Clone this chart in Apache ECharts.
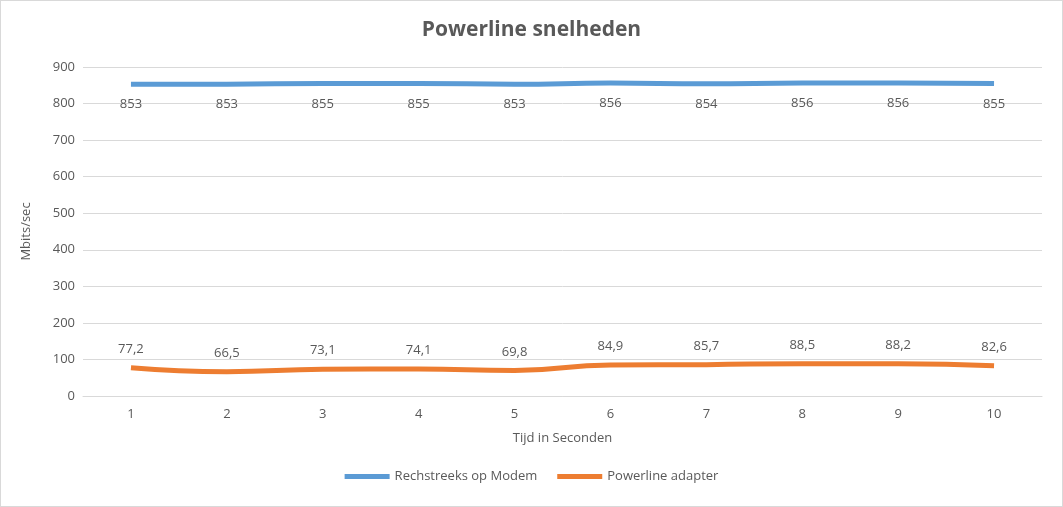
<!DOCTYPE html>
<html>
<head>
<meta charset="utf-8">
<script src="https://cdn.jsdelivr.net/npm/echarts@6/dist/echarts.min.js"></script>
<style>
  html, body { margin: 0; padding: 0; background: #fff; }
  #chart { width: 1061px; height: 505px; border: 1px solid #d9d9d9; }
</style>
</head>
<body>
<div id="chart"></div>
<script>
// data
const categories = ['1', '2', '3', '4', '5', '6', '7', '8', '9', '10']
const modem = [853, 853, 855, 855, 853, 856, 854, 856, 856, 855]
const adapter = [77.2, 66.5, 73.1, 74.1, 69.8, 84.9, 85.7, 88.5, 88.2, 82.6]

const chart = echarts.init(document.getElementById('chart'))
const txt = { color: '#595959', fontFamily: 'Open Sans, Arial', fontSize: 13 }
const fmt = p => String(p.value).replace('.', ',')

chart.setOption({
  title: {
    text: 'Powerline snelheden', left: 'center', top: 14,
    textStyle: { color: '#595959', fontSize: 21, fontWeight: 'bold', fontFamily: 'Open Sans, Arial' }
  },
  grid: { left: 82, right: 20, top: 66, bottom: 110 },
  legend: {
    bottom: 18, itemGap: 20, icon: 'rect', itemWidth: 45, itemHeight: 5,
    textStyle: txt
  },
  xAxis: {
    type: 'category', data: categories,
    name: 'Tijd in Seconden', nameLocation: 'middle', nameGap: 36, nameTextStyle: txt,
    axisLine: { lineStyle: { color: '#d9d9d9' } },
    axisTick: { show: false },
    axisLabel: { ...txt, margin: 12 }
  },
  yAxis: {
    type: 'value', min: 0, max: 900, interval: 100,
    name: 'Mbits/sec', nameLocation: 'middle', nameGap: 50, nameTextStyle: txt,
    axisLine: { show: false }, axisTick: { show: false },
    axisLabel: txt,
    splitLine: { lineStyle: { color: '#d9d9d9' } }
  },
  series: [
    {
      name: 'Rechstreeks op Modem', type: 'line', data: modem, smooth: true,
      symbol: 'circle', symbolSize: 0, color: '#5B9BD5', lineStyle: { width: 5 },
      label: { show: true, position: 'bottom', distance: 14, formatter: fmt, ...txt }
    },
    {
      name: 'Powerline adapter', type: 'line', data: adapter, smooth: true,
      symbol: 'circle', symbolSize: 0, color: '#ED7D31', lineStyle: { width: 5 },
      label: { show: true, position: 'top', distance: 12, formatter: fmt, ...txt }
    }
  ]
})
</script>
</body>
</html>
